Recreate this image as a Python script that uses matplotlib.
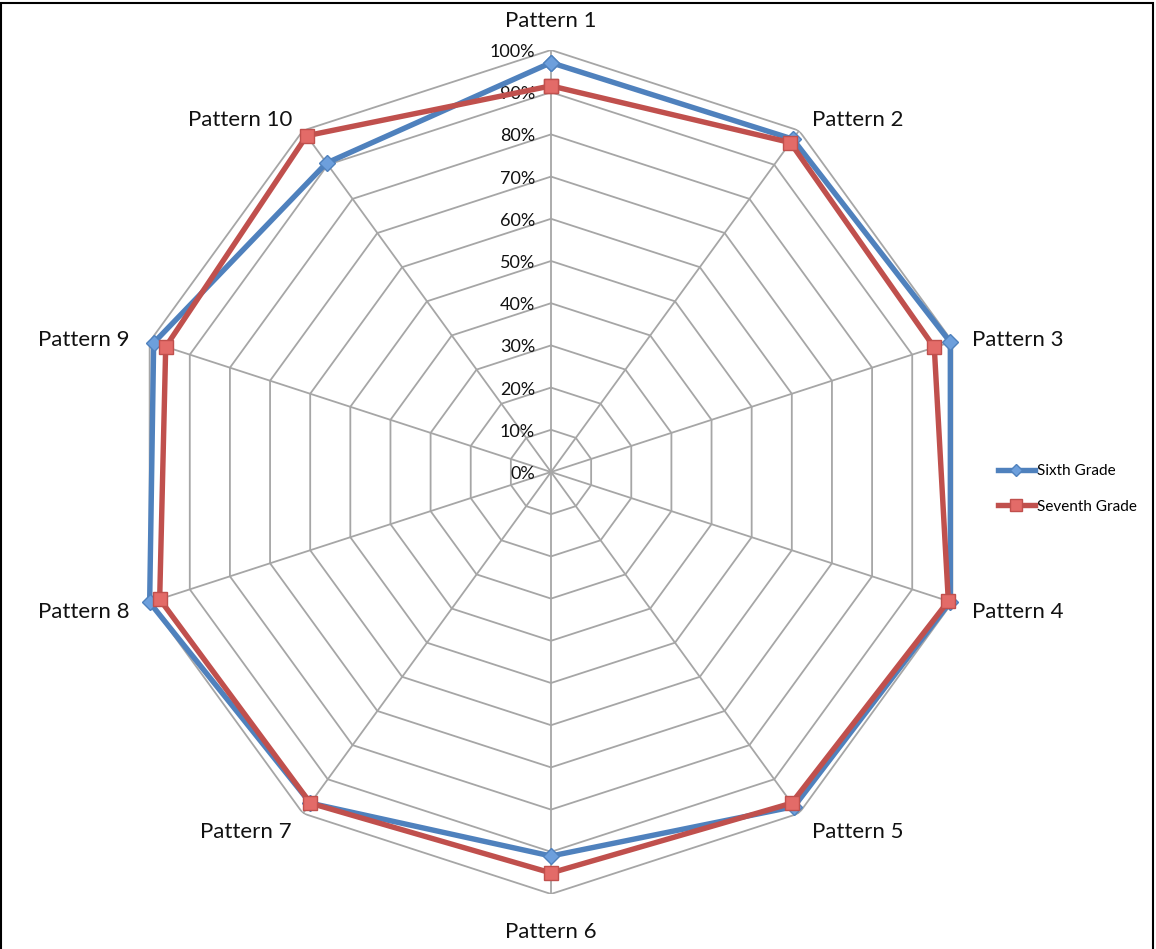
import numpy as np
import matplotlib
matplotlib.use("Agg")
import matplotlib.pyplot as plt
from matplotlib.patches import Rectangle
from matplotlib.lines import Line2D

plt.rcParams['font.family'] = ['Lato', 'DejaVu Sans']

categories = [f"Pattern {i}" for i in range(1, 11)]
sixth_grade = [0.97, 0.975, 0.995, 0.995, 0.98, 0.91, 0.97, 1.00, 0.99, 0.905]
seventh_grade = [0.915, 0.965, 0.955, 0.99, 0.97, 0.95, 0.97, 0.975, 0.96, 0.985]
levels = [0.0, 0.1, 0.2, 0.3, 0.4, 0.5, 0.6, 0.7, 0.8, 0.9, 1.0]
level_labels = ["0%", "10%", "20%", "30%", "40%", "50%", "60%", "70%", "80%", "90%", "100%"]

BLUE = "#4f81bd"
BLUE_FILL = "#6d9fdc"
RED = "#c0504d"
RED_FILL = "#e36b68"
GRID = "#a6a6a6"

W, H = 1156, 949
fig = plt.figure(figsize=(W / 100, H / 100), dpi=100)

cx, cy, R = 551, 472, 422
ax = fig.add_axes([(cx - R) / W, (H - cy - R) / H, 2 * R / W, 2 * R / H],
                  projection="polar")
ax.set_theta_zero_location("N")
ax.set_theta_direction(-1)
ax.set_ylim(0, 1)
ax.axis("off")

n = len(categories)
theta = np.arange(n) * 2 * np.pi / n
theta_closed = np.append(theta, theta[0])

# polygon grid rings and spokes
for lv in levels[1:]:
    ax.plot(theta_closed, [lv] * (n + 1), color=GRID, lw=1.3, zorder=1)
for t in theta:
    ax.plot([t, t], [0, 1], color=GRID, lw=1.3, zorder=1)

# value axis labels
for lv, lab in zip(levels, level_labels):
    ax.annotate(lab, xy=(0, lv), xytext=(-16, -2), textcoords="offset pixels",
                ha="right", va="center", fontsize=13, color="#111111")

# category labels around the outside
label_offsets = [(0, 29, "center"), (13, 11, "left"), (20, 2, "left"),
                 (20, -10, "left"), (13, -19, "left"), (0, -38, "center"),
                 (-11, -19, "right"), (-20, -10, "right"), (-20, 2, "right"),
                 (-11, 11, "right")]
for t, lab, (dx, dy, ha) in zip(theta, categories, label_offsets):
    ax.annotate(lab, xy=(t, 1.0), xytext=(dx, dy), textcoords="offset pixels",
                ha=ha, va="center", fontsize=16, color="#111111",
                annotation_clip=False)

ax.plot(theta_closed, sixth_grade + sixth_grade[:1], color=BLUE, lw=3.9,
        marker="D", markersize=8, markerfacecolor=BLUE_FILL,
        markeredgecolor=BLUE, markeredgewidth=1, zorder=3, clip_on=False)
ax.plot(theta_closed, seventh_grade + seventh_grade[:1], color=RED, lw=3.9,
        marker="s", markersize=10.5, markerfacecolor=RED_FILL,
        markeredgecolor=RED, markeredgewidth=1, zorder=4, clip_on=False)

handles = [
    Line2D([], [], color=BLUE, lw=3.9, marker="D", markersize=6,
           markerfacecolor=BLUE_FILL, markeredgecolor=BLUE),
    Line2D([], [], color=RED, lw=3.9, marker="s", markersize=8,
           markerfacecolor=RED_FILL, markeredgecolor=RED),
]
fig.legend(handles, ["Sixth Grade", "Seventh Grade"], loc="center left",
           bbox_to_anchor=(998 / W, 1 - 489 / H), frameon=False,
           fontsize=11, handlelength=2.4, handletextpad=0.15,
           labelspacing=1.4, borderpad=0, borderaxespad=0)

# thin frame around the figure
fig.add_artist(Rectangle((1 / W, -0.01), (W - 4) / W, 1 - 3 / H + 0.01,
                         transform=fig.transFigure, fill=False,
                         edgecolor="black", lw=1.5))

fig.savefig("out.png", dpi=100)
